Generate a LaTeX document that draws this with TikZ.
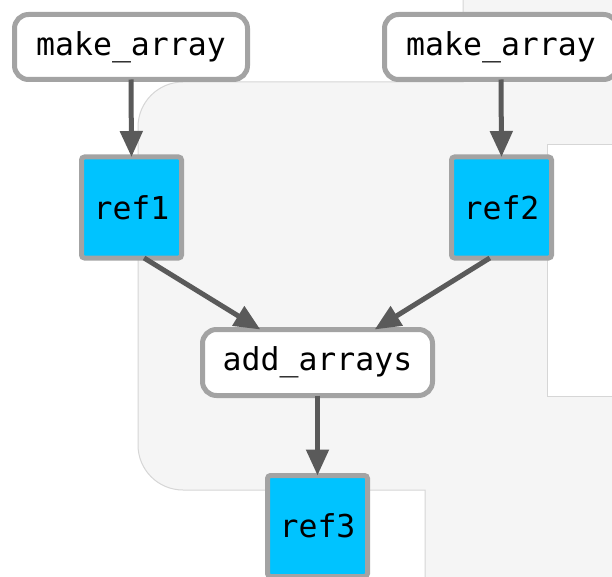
\documentclass[tikz,border=0pt]{standalone}
\usepackage{fontspec}
\setmonofont{DejaVu Sans Mono}
\usetikzlibrary{arrows.meta}
\definecolor{bgpanel}{HTML}{F5F5F5}
\definecolor{bgline}{HTML}{D6D6D6}
\definecolor{nodeline}{HTML}{A3A3A3}
\definecolor{refblue}{HTML}{00C3FF}
\definecolor{arrowgray}{HTML}{5A5A5A}
\tikzset{
  taskbox/.style={draw=nodeline, line width=5pt, fill=white, rounded corners=14pt,
    font=\ttfamily\fontsize{31.5}{36}\selectfont, inner sep=0pt, outer sep=0pt},
  refbox/.style={draw=nodeline, line width=5pt, fill=refblue, rounded corners=3pt,
    font=\ttfamily\fontsize{31.5}{36}\selectfont, inner sep=0pt, outer sep=0pt,
    minimum width=100pt, minimum height=101pt},
  flow/.style={draw=arrowgray, line width=5pt, -{Triangle[width=22pt,length=26pt]}},
  edgeline/.style={draw=bgline, line width=1pt}
}
\begin{document}
\begin{tikzpicture}[x=1pt,y=-1pt]
\useasboundingbox (0,0) rectangle (612,577);
\fill[white] (0,0) rectangle (612,577);
% background panels
\fill[bgpanel] (463,0) -- (463,82) -- (183,82) arc[start angle=270,end angle=180,radius=45]
  -- (138,445) arc[start angle=180,end angle=90,radius=45] -- (425,490) -- (425,577)
  -- (612,577) -- (612,0) -- cycle;
\draw[edgeline] (463,0) -- (463,82) -- (183,82) arc[start angle=270,end angle=180,radius=45]
  -- (138,445) arc[start angle=180,end angle=90,radius=45] -- (425,490) -- (425,577);
\fill[white] (547,145) rectangle (612,396);
\draw[edgeline] (612,145) -- (547,145) -- (547,396) -- (612,396);
% nodes
\node[taskbox, minimum width=233pt, minimum height=65pt] (m1) at (131,47) {make\_array};
\node[taskbox, minimum width=233pt, minimum height=65pt] (m2) at (501,47) {make\_array};
\node[refbox] (r1) at (131.5,207.5) {ref1};
\node[refbox] (r2) at (501.5,207.5) {ref2};
\node[taskbox, minimum width=230pt, minimum height=66pt] (add) at (317.5,362.5) {add\_arrays};
\node[refbox] (r3) at (317.5,526) {ref3};
% connectors
\draw[flow] (m1.south) -- (r1.north);
\draw[flow] (m2.south) -- (r2.north);
\draw[flow] (r1.-76) -- (add.150);
\draw[flow] (r2.-103) -- (add.30);
\draw[flow] (add.south) -- (r3.north);
\end{tikzpicture}
\end{document}
